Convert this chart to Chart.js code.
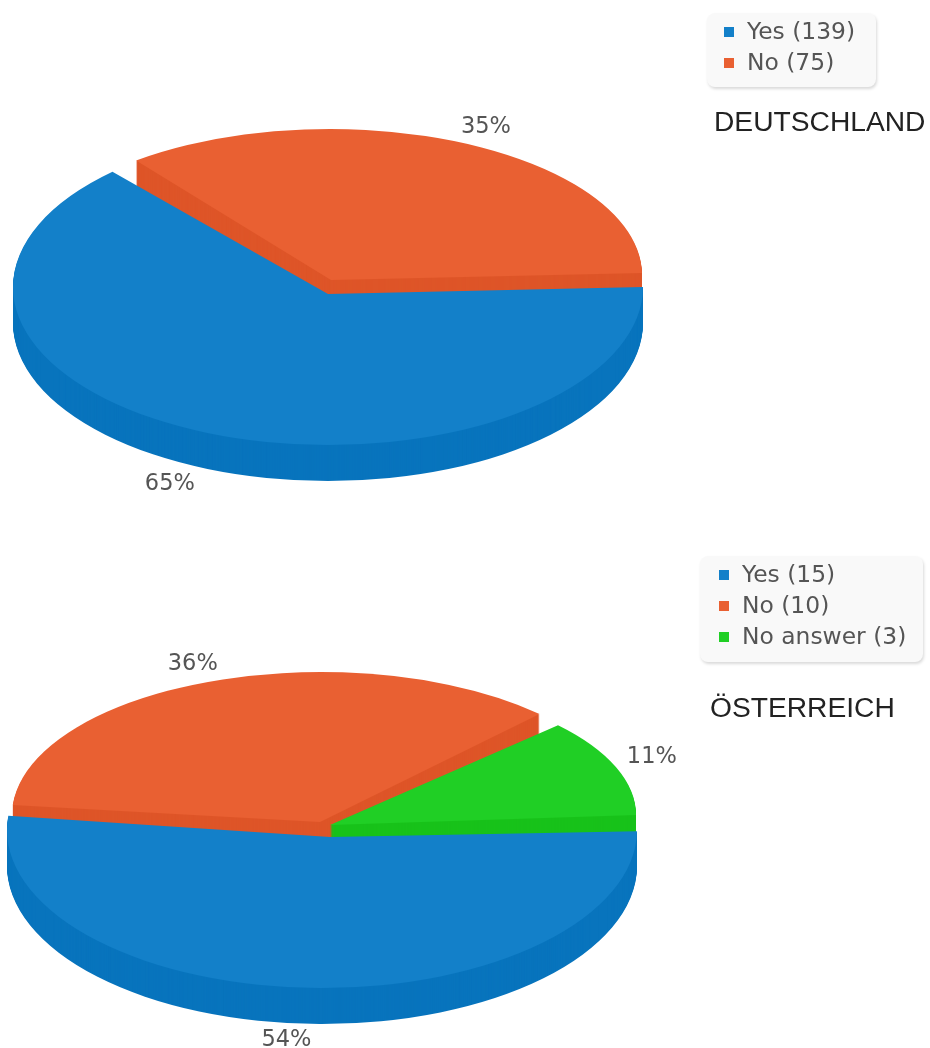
<!DOCTYPE html>
<html lang="en">
<head>
<meta charset="UTF-8">
<title>Deutschland / Österreich</title>
<script src="https://cdn.jsdelivr.net/npm/chart.js"></script>
<style>
    html, body { margin: 0; padding: 0; background: #fff; width: 930px; height: 1048px; overflow: hidden; }
    body { filter: blur(0.6px); }
    canvas { position: absolute; left: 0; }
    .legend {
        position: absolute;
        box-sizing: border-box;
        background: #f9f9f9;
        border-radius: 8px;
        box-shadow: 1px 2px 3px rgba(0, 0, 0, 0.15);
        font: 23.4px "DejaVu Sans", sans-serif;
        line-height: 31px;
        color: #555;
        white-space: nowrap;
    }
    .legend i { display: inline-block; width: 10px; height: 10px; margin-right: 13px; vertical-align: 2px; }
    .title { position: absolute; font: 28.2px "Liberation Sans", Arial, sans-serif; color: #222; white-space: nowrap; }
</style>
</head>
<body>
<canvas id="chartDe" width="930" height="524" style="top:0"></canvas>
<canvas id="chartAt" width="930" height="524" style="top:524px"></canvas>
<div class="legend" id="legendDe" style="left:707px;top:13px;width:169px;height:74px;padding:3px 0 0 17px"></div>
<div class="legend" id="legendAt" style="left:700px;top:556px;width:223px;height:106px;padding:3px 0 0 19px"></div>
<div class="title" style="left:714px;top:105px">DEUTSCHLAND</div>
<div class="title" style="left:710px;top:691px">ÖSTERREICH</div>

<script>
const categoriesDe = ['Yes', 'No'];
const valuesDe = [139, 75];
const categoriesAt = ['Yes', 'No', 'No answer'];
const valuesAt = [15, 10, 3];

const topColors = ['#1380c9', '#e96032', '#20cf25'];
const wallColors = ['#0874bd', '#de5528', '#18c21a'];
const wallDepth = 36;
const toRad = Math.PI / 180;

// per slice look of the tilted pie: rim ellipse, tip of the wedge, angle fix, label nudge
const shapeDe = [
    { dx: 0, dy: 0, rx: 315, ry: 158, tipX: 0, tipY: 7, turn: -3.5, spread: 0.97, labelX: -33, labelY: 50 },
    { dx: 2, dy: -12, rx: 312, ry: 146, tipX: 3, tipY: -7, turn: -1.5, spread: 1.012, labelX: 22, labelY: -18 }
];
const shapeAt = [
    { dx: 0, dy: 0, rx: 315, ry: 158, tipX: 8, tipY: 7, turn: -3.6, spread: 0.958, labelX: -20, labelY: 50 },
    { dx: -1, dy: -15, rx: 309, ry: 143, tipX: -2, tipY: -8, turn: -7.64, spread: 1.019, labelX: -20, labelY: -19 },
    { dx: 6, dy: -15, rx: 308, ry: 135, tipX: 8, tipY: -5, turn: -1.55, spread: 1.081, labelX: 36, labelY: -12 }
];

function slicePath(ctx, arc, s, shift) {
    const mid = (arc.startAngle + arc.endAngle) / 2 + s.turn * toRad;
    const half = (arc.endAngle - arc.startAngle) / 2 * s.spread;
    ctx.beginPath();
    ctx.moveTo(arc.x + s.tipX, arc.y + s.tipY + shift);
    ctx.ellipse(arc.x + s.dx, arc.y + s.dy + shift, s.rx, s.ry, 0, mid - half, mid + half, false);
    ctx.closePath();
}

// draws the arcs the pie controller worked out as tilted wedges with a side wall
const tiltedPie = {
    id: 'tiltedPie',
    beforeDatasetsDraw(chart, args, opts) {
        const ctx = chart.ctx;
        const arcs = chart.getDatasetMeta(0).data;
        const values = chart.data.datasets[0].data;
        const total = values.reduce((a, b) => a + b, 0);

        ctx.save();
        // back slices first, the big front slice last
        const order = arcs.map((a, i) => (i + 1) % arcs.length);
        order.forEach(i => {
            const s = opts.shape[i];
            ctx.fillStyle = wallColors[i];
            for (let d = wallDepth; d > 0; d--) {
                slicePath(ctx, arcs[i], s, d);
                ctx.fill();
            }
            ctx.fillStyle = topColors[i];
            slicePath(ctx, arcs[i], s, 0);
            ctx.fill();
        });

        ctx.font = '22.5px "DejaVu Sans", sans-serif';
        ctx.fillStyle = '#555';
        ctx.textAlign = 'center';
        ctx.textBaseline = 'middle';
        arcs.forEach((arc, i) => {
            const s = opts.shape[i];
            const mid = (arc.startAngle + arc.endAngle) / 2 + s.turn * toRad;
            const x = arc.x + s.dx + s.rx * Math.cos(mid) + s.labelX;
            const y = arc.y + s.dy + s.ry * Math.sin(mid) + s.labelY + 2;
            ctx.fillText(Math.round(values[i] / total * 100) + '%', x, y);
        });
        ctx.restore();
        return false;
    }
};

function makePie(id, categories, values, shape, padding) {
    new Chart(document.getElementById(id), {
        type: 'pie',
        data: {
            labels: categories,
            datasets: [{ data: values, backgroundColor: topColors.slice(0, values.length) }]
        },
        options: {
            responsive: false,
            animation: false,
            rotation: 90,
            radius: 315,
            layout: { padding: padding },
            plugins: {
                legend: { display: false },
                tooltip: { enabled: false },
                tiltedPie: { shape: shape }
            }
        },
        plugins: [tiltedPie]
    });
}

function makeLegend(id, categories, values) {
    document.getElementById(id).innerHTML = categories.map((c, i) =>
        '<div><i style="background:' + topColors[i] + '"></i>' + c + ' (' + values[i] + ')</div>'
    ).join('');
}

makePie('chartDe', categoriesDe, valuesDe, shapeDe, { top: 50, right: 274 });
makePie('chartAt', categoriesAt, valuesAt, shapeAt, { top: 88, right: 286 });
makeLegend('legendDe', categoriesDe, valuesDe);
makeLegend('legendAt', categoriesAt, valuesAt);
</script>
</body>
</html>
